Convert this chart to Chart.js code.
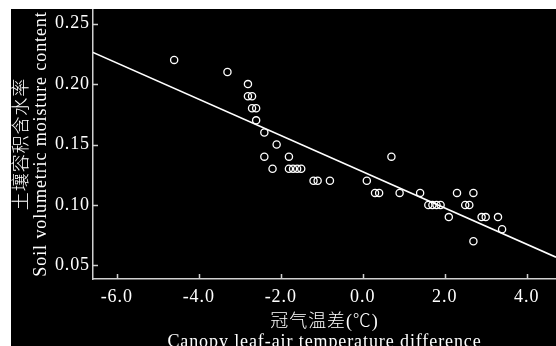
<!DOCTYPE html>
<html>
<head>
<meta charset="utf-8">
<script src="https://cdn.jsdelivr.net/npm/chart.js@4"></script>
<style>
  html, body { margin: 0; padding: 0; background: #fff; }
  #wrap { position: absolute; left: 11px; top: 9px; width: 545px; height: 337px; background: #000; }
</style>
</head>
<body>
<div id="wrap"><canvas id="chart" width="545" height="337"></canvas></div>
<script>
  // canopy leaf-air temperature difference (°C) and soil volumetric moisture
  const tempDiff = [-4.6, -3.3, -2.8, -2.8, -2.7, -2.7, -2.6, -2.6, -2.4, -2.4,
                    -2.2, -2.1, -1.8, -1.8, -1.7, -1.6, -1.5, -1.2, -1.1, -0.8,
                    0.1, 0.7, 0.3, 0.4, 0.9, 1.4, 2.3, 2.7, 1.6, 1.7,
                    1.8, 1.9, 2.5, 2.6, 2.1, 2.9, 3.0, 3.3, 2.7, 3.4];
  const moisture = [0.22, 0.21, 0.20, 0.19, 0.19, 0.18, 0.18, 0.17, 0.16, 0.14,
                    0.13, 0.15, 0.14, 0.13, 0.13, 0.13, 0.13, 0.12, 0.12, 0.12,
                    0.12, 0.14, 0.11, 0.11, 0.11, 0.11, 0.11, 0.11, 0.10, 0.10,
                    0.10, 0.10, 0.10, 0.10, 0.09, 0.09, 0.09, 0.09, 0.07, 0.08];

  // regression line end points
  const fitX = [-6.58, 4.715];
  const fitY = [0.2262, 0.0568];

  const xTicks = [-6, -4, -2, 0, 2, 4];
  const yTicks = [0.05, 0.10, 0.15, 0.20, 0.25];

  const axisColor = '#cfcfcf';
  const font = { family: '"Liberation Serif", "Noto Sans CJK SC", serif', size: 18, weight: '300' };

  const spacing = {
    id: 'spacing',
    beforeUpdate(chart) { chart.ctx.letterSpacing = '0.9px'; },
    beforeDraw(chart) { chart.ctx.letterSpacing = '0.9px'; }
  };

  // short tick marks pointing into the plot
  const innerTicks = {
    id: 'innerTicks',
    afterDraw(chart) {
      const { ctx, chartArea, scales } = chart;
      ctx.save();
      ctx.strokeStyle = axisColor;
      ctx.lineWidth = 1.5;
      ctx.beginPath();
      xTicks.forEach(v => {
        const px = Math.round(scales.x.getPixelForValue(v)) + 0.5;
        ctx.moveTo(px, chartArea.bottom);
        ctx.lineTo(px, chartArea.bottom - 5);
      });
      yTicks.forEach(v => {
        const py = Math.round(scales.y.getPixelForValue(v)) + 0.5;
        ctx.moveTo(chartArea.left, py);
        ctx.lineTo(chartArea.left + 5, py);
      });
      ctx.stroke();
      ctx.restore();
    }
  };

  new Chart(document.getElementById('chart'), {
    type: 'scatter',
    data: {
      datasets: [
        {
          data: tempDiff.map((x, i) => ({ x, y: moisture[i] })),
          pointRadius: 3.6,
          pointBorderWidth: 1.3,
          pointBorderColor: '#fff',
          pointBackgroundColor: 'rgba(0,0,0,0)'
        },
        {
          type: 'line',
          data: fitX.map((x, i) => ({ x, y: fitY[i] })),
          borderColor: '#fff',
          borderWidth: 1.6,
          pointRadius: 0,
          fill: false
        }
      ]
    },
    options: {
      responsive: false,
      animation: false,
      layout: { padding: 0, autoPadding: false },
      plugins: { legend: { display: false }, tooltip: { enabled: false } },
      scales: {
        x: {
          type: 'linear',
          min: -6.58,
          max: 4.715,
          afterFit: s => { s.height = 67; s.paddingLeft = 0; s.paddingRight = 0; },
          afterBuildTicks: s => { s.ticks = xTicks.map(value => ({ value })); },
          ticks: {
            color: '#fff',
            font,
            padding: 7,
            callback: v => v.toFixed(1)
          },
          grid: { display: true, drawOnChartArea: false, drawTicks: false },
          border: { display: true, color: axisColor, width: 1.5 },
          title: {
            display: true,
            text: ['冠气温差(℃)', 'Canopy leaf-air temperature difference'],
            color: '#fff',
            font: { ...font, lineHeight: '20px' },
            padding: { top: 0, bottom: -6 }
          }
        },
        y: {
          min: 0.0388,
          max: 0.2621,
          afterFit: s => { s.width = 82; s.paddingTop = 0; s.paddingBottom = 0; },
          afterBuildTicks: s => { s.ticks = yTicks.map(value => ({ value })); },
          ticks: {
            color: '#fff',
            font,
            padding: 3,
            callback: v => v.toFixed(2)
          },
          grid: { display: true, drawOnChartArea: false, drawTicks: false },
          border: { display: true, color: axisColor, width: 1.5 },
          title: {
            display: true,
            text: ['土壤容积含水率', 'Soil volumetric moisture content'],
            color: '#fff',
            font: { ...font, lineHeight: '19px' },
            padding: { top: 2, bottom: 0 }
          }
        }
      }
    },
    plugins: [spacing, innerTicks]
  });
</script>
</body>
</html>
